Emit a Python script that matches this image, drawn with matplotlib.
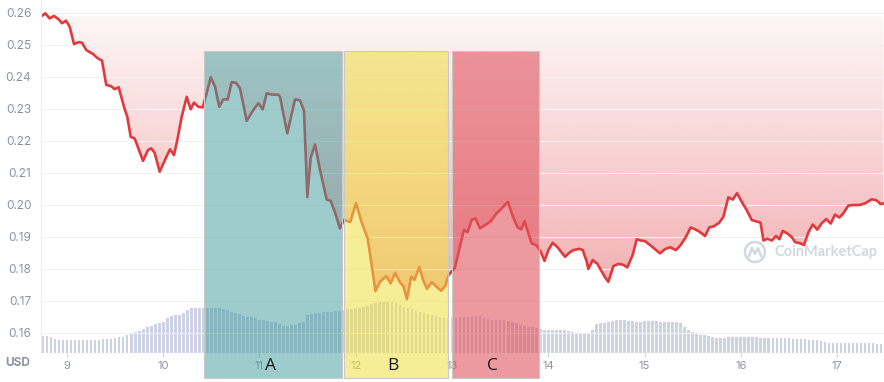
import numpy as np
import matplotlib
matplotlib.use("Agg")
import matplotlib.pyplot as plt
from matplotlib.patches import Rectangle, Ellipse
from matplotlib.colors import to_rgb

# price series, days of month vs USD
days = [8.740, 8.775, 8.820, 8.865, 8.914, 8.948, 8.990, 9.028, 9.073, 9.122, 9.156, 9.201,
        9.270, 9.322, 9.364, 9.408, 9.454, 9.496, 9.537, 9.592, 9.626, 9.662, 9.703, 9.790,
        9.842, 9.876, 9.911, 9.963, 10.018, 10.070, 10.112, 10.146, 10.192, 10.244, 10.285,
        10.319, 10.364, 10.410, 10.451, 10.493, 10.538, 10.582, 10.624, 10.670, 10.711, 10.756,
        10.797, 10.867, 10.936, 10.988, 11.033, 11.075, 11.127, 11.195, 11.213, 11.289, 11.369,
        11.421, 11.462, 11.497, 11.532, 11.577, 11.629, 11.698, 11.740, 11.784, 11.836, 11.878,
        11.943, 12.003, 12.062, 12.125, 12.205, 12.252, 12.317, 12.363, 12.408, 12.460, 12.494,
        12.532, 12.576, 12.610, 12.660, 12.699, 12.740, 12.789, 12.841, 12.888, 12.932, 12.962,
        13.031, 13.122, 13.161, 13.205, 13.244, 13.291, 13.353, 13.405, 13.457, 13.509, 13.580,
        13.634, 13.681, 13.719, 13.753, 13.782, 13.828, 13.880, 13.922, 13.961, 14.001, 14.046,
        14.099, 14.140, 14.174, 14.219, 14.260, 14.323, 14.358, 14.400, 14.416, 14.462, 14.510,
        14.555, 14.590, 14.624, 14.676, 14.728, 14.780, 14.821, 14.877, 14.919, 14.961, 15.005,
        15.057, 15.109, 15.161, 15.213, 15.265, 15.327, 15.376, 15.431, 15.480, 15.525, 15.569,
        15.629, 15.673, 15.722, 15.777, 15.819, 15.871, 15.917, 15.961, 16.010, 16.062, 16.114,
        16.169, 16.205, 16.236, 16.276, 16.322, 16.366, 16.401, 16.436, 16.484, 16.529, 16.564,
        16.608, 16.657, 16.702, 16.748, 16.795, 16.841, 16.889, 16.934, 16.979, 17.024, 17.065,
        17.117, 17.169, 17.232, 17.291, 17.361, 17.413, 17.452, 17.483]
price = [0.2591, 0.2599, 0.2583, 0.2591, 0.2580, 0.2568, 0.2576, 0.2557, 0.2503, 0.2509, 0.2507,
         0.2484, 0.2472, 0.2458, 0.2451, 0.2375, 0.2372, 0.2362, 0.2368, 0.2307, 0.2276, 0.2213,
         0.2208, 0.2138, 0.2172, 0.2177, 0.2163, 0.2104, 0.2141, 0.2174, 0.2156, 0.2203, 0.2276,
         0.2338, 0.2299, 0.2320, 0.2307, 0.2305, 0.2349, 0.2399, 0.2370, 0.2307, 0.2330, 0.2330,
         0.2384, 0.2382, 0.2365, 0.2263, 0.2297, 0.2318, 0.2299, 0.2349, 0.2345, 0.2345, 0.2338,
         0.2224, 0.2330, 0.2327, 0.2295, 0.2025, 0.2148, 0.2189, 0.2109, 0.2017, 0.2013, 0.1977,
         0.1927, 0.1953, 0.1947, 0.2006, 0.1945, 0.1894, 0.1731, 0.1760, 0.1778, 0.1755, 0.1788,
         0.1758, 0.1747, 0.1706, 0.1776, 0.1766, 0.1806, 0.1766, 0.1738, 0.1759, 0.1744, 0.1732,
         0.1748, 0.1780, 0.1804, 0.1922, 0.1915, 0.1954, 0.1958, 0.1927, 0.1939, 0.1950, 0.1972,
         0.1987, 0.2010, 0.1963, 0.1930, 0.1924, 0.1950, 0.1922, 0.1880, 0.1873, 0.1854, 0.1825,
         0.1859, 0.1882, 0.1867, 0.1851, 0.1838, 0.1851, 0.1859, 0.1863, 0.1859, 0.1823, 0.1800,
         0.1828, 0.1816, 0.1792, 0.1774, 0.1760, 0.1809, 0.1816, 0.1813, 0.1805, 0.1844, 0.1893,
         0.1889, 0.1887, 0.1875, 0.1862, 0.1849, 0.1862, 0.1868, 0.1859, 0.1875, 0.1901, 0.1930,
         0.1924, 0.1917, 0.1903, 0.1930, 0.1934, 0.1945, 0.1963, 0.2024, 0.2017, 0.2037, 0.2010,
         0.1984, 0.1953, 0.1948, 0.1945, 0.1889, 0.1895, 0.1889, 0.1903, 0.1893, 0.1919, 0.1911,
         0.1900, 0.1884, 0.1881, 0.1875, 0.1914, 0.1939, 0.1923, 0.1943, 0.1956, 0.1942, 0.1970,
         0.1961, 0.1974, 0.1998, 0.2000, 0.2000, 0.2005, 0.2018, 0.2014, 0.2003, 0.2005]

# hourly volume (relative units), first bar at day 8.75
vol_start = 8.75
volume = [17, 17, 16, 14, 13, 13, 13, 13, 13, 13, 13, 13, 13, 13, 13, 14, 14, 14, 15, 16, 16, 18,
          19, 21, 22, 24, 26, 27, 29, 30, 31, 35, 37, 38, 38, 40, 43, 45, 45, 45,
          45, 45, 45, 45, 45, 44, 43, 41, 40, 39, 37, 36, 36, 35, 33, 33, 32, 31, 31, 29,
          27, 27, 28, 28, 30, 31, 38, 39, 40, 40, 41, 41, 41, 42, 42, 43, 44, 44, 45, 45,
          46, 47, 49, 50, 51, 52, 52, 51, 50, 48, 46, 45, 44, 42, 41, 40, 39, 38, 37, 36,
          35, 35, 35, 35, 36, 36, 36, 37, 37, 37, 35, 34, 33, 33, 33, 33, 32, 31, 30, 28,
          27, 26, 26, 25, 24, 23, 23, 23, 23, 23, 23, 22, 21, 20, 20, 20, 20, 23, 29, 30,
          30, 31, 32, 33, 33, 33, 32, 32, 31, 31, 32, 32, 32, 32, 31, 31, 31, 31, 31, 30,
          26, 23, 21, 19, 18, 18, 17, 16, 15, 15, 15, 16, 16, 16, 16, 16, 16, 16, 16, 15,
          15, 15, 15, 15, 15, 15, 15, 14, 14, 14, 14, 13, 13, 13, 12, 11, 10, 10, 10, 10,
          10, 10, 10, 10, 10, 10, 10, 10, 9, 9]

# highlighted phases
zone_labels = ["A", "B", "C"]
zone_start = [10.423, 11.878, 13.000]
zone_end = [11.857, 12.958, 13.904]
zone_colors = ["#3f9a9a", "#f0e040", "#e05560"]
zone_alpha = [0.5, 0.55, 0.6]
zone_top = 0.2481

day_ticks = [9, 10, 11, 12, 13, 14, 15, 16, 17]
price_ticks = [0.16, 0.17, 0.18, 0.19, 0.20, 0.21, 0.22, 0.23, 0.24, 0.25, 0.26]

line_red = "#e0393e"
grey_txt = "#8d939e"
W, H = 884, 382
xlim = (8.73, 17.488)
ylim = (0.15375, 0.26406)

fig = plt.figure(figsize=(W / 100, H / 100), dpi=100)
fig.patch.set_facecolor("white")
left = 41 / W
bottom = 29 / H

# volume bars in their own axes underneath
axv = fig.add_axes([left, bottom, 1 - left, 100 / H], zorder=0)
vt = vol_start + np.arange(len(volume)) / 24
axv.bar(vt, volume, width=0.028, color="#c3cadf", alpha=0.85, linewidth=0)
axv.set_xlim(xlim)
axv.set_ylim(0, 100)
axv.axis("off")

ax = fig.add_axes([left, bottom, 1 - left, 353 / H], zorder=1)
ax.patch.set_alpha(0)
ax.set_xlim(xlim)
ax.set_ylim(ylim)

# gradient fill between price and its opening level
base = price[0]
poly = ax.fill_between(days, price, base, color="none", lw=0)
ys = np.linspace(ylim[0], ylim[1], 300)
grad = np.zeros((300, 1, 4))
grad[:, 0, :3] = to_rgb(line_red)
grad[:, 0, 3] = np.clip(0.04 + (0.26 - ys) * 4.2, 0, 0.45)
im = ax.imshow(grad, aspect="auto", origin="lower",
               extent=[xlim[0], xlim[1], ylim[0], ylim[1]], zorder=1)
path = poly.get_paths()[0]
im.set_clip_path(path, transform=ax.transData)

ax.plot(days, price, color=line_red, lw=1.9, zorder=2, solid_joinstyle="round")

for lab, x0, x1, c, a in zip(zone_labels, zone_start, zone_end, zone_colors, zone_alpha):
    r = Rectangle((x0, 0.14594), x1 - x0, zone_top - 0.14594, facecolor=c, alpha=a,
                  edgecolor="none", zorder=3, clip_on=False)
    ax.add_patch(r)
    r2 = Rectangle((x0, 0.14594), x1 - x0, zone_top - 0.14594, facecolor="none",
                   edgecolor="#c9c9c9", lw=0.8, zorder=3, clip_on=False)
    ax.add_patch(r2)
    ax.text((x0 + x1) / 2 - 0.03, 0.1497, lab, ha="center", va="center", fontsize=12.5,
            family="Open Sans", color="#1a1a1a", zorder=4, clip_on=False)

ax.set_yticks(price_ticks)
ax.set_yticklabels([f"{p:.2f}" for p in price_ticks])
ax.set_xticks(day_ticks)
ax.set_xticklabels([str(d) for d in day_ticks])
ax.grid(axis="y", color="#f1f1f3", lw=0.8, zorder=0)
ax.tick_params(axis="y", length=0, pad=7, labelsize=8.5, labelcolor=grey_txt)
ax.tick_params(axis="x", length=3, color="#d3d7de", pad=3, labelsize=8, labelcolor=grey_txt)
for lbl in ax.get_xticklabels() + ax.get_yticklabels():
    lbl.set_family("Inter")
for s in ["top", "right", "bottom"]:
    ax.spines[s].set_visible(False)
ax.spines["left"].set_color("#eeeeee")

fig.text(18 / W, 1 - 363 / H, "USD", ha="center", va="center", fontsize=8.5,
         fontweight="bold", color=grey_txt, family="Inter")

# watermark
fig.add_artist(Ellipse((755 / W, 1 - 252 / H), 20 / W, 20 / H, facecolor="none",
                       edgecolor="#d3d7de", lw=1.8))
mx = np.array([749, 752, 755, 758, 761]) / W
my = 1 - np.array([256, 248, 254, 248, 256]) / H
fig.add_artist(plt.Line2D(mx, my, color="#d3d7de", lw=1.8))
fig.text(826 / W, 1 - 252 / H, "CoinMarketCap", ha="center", va="center",
         fontsize=10.5, fontweight="bold", color="#d3d7de", family="Lato")

fig.savefig("out.png", dpi=100)
